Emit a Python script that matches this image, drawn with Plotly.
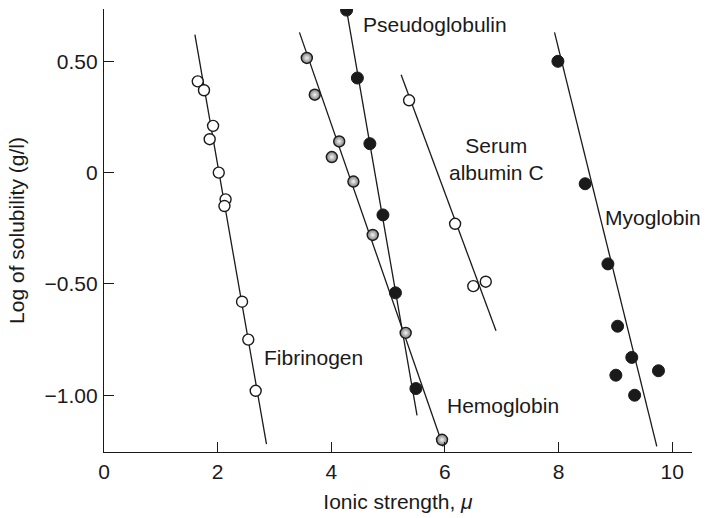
import plotly.graph_objects as go

# ---- data ----
fib_x = [1.65, 1.76, 1.92, 1.86, 2.02, 2.14, 2.12, 2.43, 2.54, 2.67]
fib_y = [0.41, 0.37, 0.21, 0.15, 0.00, -0.12, -0.15, -0.58, -0.75, -0.98]
fib_line_x = [1.60, 2.86]
fib_line_y = [0.62, -1.22]

hem_x = [3.57, 3.71, 4.14, 4.01, 4.39, 4.73, 5.31, 5.95]
hem_y = [0.515, 0.35, 0.14, 0.07, -0.04, -0.28, -0.72, -1.20]
hem_line_x = [3.44, 5.97]
hem_line_y = [0.63, -1.23]

pse_x = [4.27, 4.46, 4.68, 4.91, 5.13, 5.49]
pse_y = [0.73, 0.425, 0.13, -0.19, -0.54, -0.97]
pse_line_x = [4.27, 5.51]
pse_line_y = [0.73, -1.09]

alb_x = [5.37, 6.18, 6.50, 6.72]
alb_y = [0.325, -0.23, -0.51, -0.49]
alb_line_x = [5.23, 6.90]
alb_line_y = [0.44, -0.71]

myo_x = [7.99, 8.47, 8.87, 9.04, 9.29, 9.01, 9.76, 9.34]
myo_y = [0.50, -0.05, -0.41, -0.69, -0.83, -0.91, -0.89, -1.00]
myo_line_x = [7.93, 9.73]
myo_line_y = [0.63, -1.23]

labels = ["Pseudoglobulin", "Serum<br>albumin C", "Myoglobin", "Fibrinogen", "Hemoglobin"]
label_x = [5.83, 6.91, 9.66, 3.68, 7.02]
label_y = [0.665, 0.06, -0.20, -0.83, -1.045]

x_tickvals = [0, 2, 4, 6, 8, 10]
x_ticktext = ["0", "2", "4", "6", "8", "10"]
y_tickvals = [0.5, 0, -0.5, -1.0]
y_ticktext = ["0.50", "0", "\u22120.50", "\u22121.00"]

FONT = "Liberation Sans, Arial, sans-serif"
FS = 21
fig = go.Figure()

line_style = dict(color="#1a1a1a", width=1.3)
for lx, ly in [(fib_line_x, fib_line_y), (hem_line_x, hem_line_y), (pse_line_x, pse_line_y),
               (alb_line_x, alb_line_y), (myo_line_x, myo_line_y)]:
    fig.add_trace(go.Scatter(x=lx, y=ly, mode="lines", line=line_style,
                             showlegend=False, hoverinfo="skip"))

open_marker = dict(size=11, color="white", line=dict(color="#1a1a1a", width=1.4))
black_marker = dict(size=12, color="#1a1a1a", line=dict(color="#1a1a1a", width=1))
gray_marker = dict(size=11, color="#7a7a7a", gradient=dict(type="radial", color="#f4f4f4"),
                   line=dict(color="#1a1a1a", width=1.4))

fig.add_trace(go.Scatter(x=fib_x, y=fib_y, mode="markers", marker=open_marker, name="Fibrinogen"))
fig.add_trace(go.Scatter(x=hem_x, y=hem_y, mode="markers", marker=gray_marker, name="Hemoglobin"))
fig.add_trace(go.Scatter(x=pse_x, y=pse_y, mode="markers", marker=black_marker, name="Pseudoglobulin"))
fig.add_trace(go.Scatter(x=alb_x, y=alb_y, mode="markers", marker=open_marker, name="Serum albumin C"))
fig.add_trace(go.Scatter(x=myo_x, y=myo_y, mode="markers", marker=black_marker, name="Myoglobin"))

for t, x, y in zip(labels, label_x, label_y):
    fig.add_annotation(x=x, y=y, text=t, showarrow=False, xanchor="center", yanchor="middle",
                       font=dict(family=FONT, size=FS, color="#1a1a1a"))

fig.update_layout(
    width=711, height=518,
    margin=dict(l=104, r=19, t=9, b=64),
    plot_bgcolor="white", paper_bgcolor="white",
    showlegend=False,
    font=dict(family=FONT, size=FS, color="#1a1a1a"),
)
fig.update_xaxes(
    range=[0, 10.35], showline=True, linecolor="#1a1a1a", linewidth=1.3,
    showgrid=False, zeroline=False, ticks="inside", ticklen=10, tickwidth=1.3,
    tickcolor="#1a1a1a", tickvals=x_tickvals, ticktext=x_ticktext, ticklabelstandoff=1,
    title=dict(text="Ionic strength, <i>\u03bc</i>", font=dict(size=FS), standoff=11),
)
fig.update_yaxes(
    range=[-1.255, 0.735], showline=True, linecolor="#1a1a1a", linewidth=1.3,
    showgrid=False, zeroline=False, ticks="inside", ticklen=10, tickwidth=1.3,
    tickcolor="#1a1a1a", tickvals=y_tickvals, ticktext=y_ticktext, ticklabelstandoff=1,
    title=dict(text="Log of solubility (g/l)", font=dict(size=FS), standoff=14),
)

fig.write_html("out.html")
